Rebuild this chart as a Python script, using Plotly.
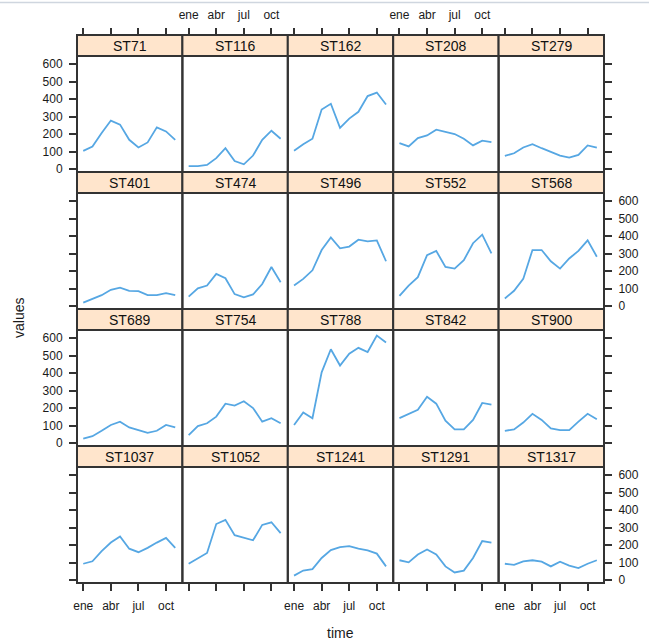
import plotly.graph_objects as go

# ---------------- data ----------------
months = list(range(1, 12))            # ene .. nov
month_ticks = [1, 4, 7, 10]
month_labels = ["ene", "abr", "jul", "oct"]
value_ticks = [0, 100, 200, 300, 400, 500, 600]

stations = ["ST71", "ST116", "ST162", "ST208", "ST279",
            "ST401", "ST474", "ST496", "ST552", "ST568",
            "ST689", "ST754", "ST788", "ST842", "ST900",
            "ST1037", "ST1052", "ST1241", "ST1291", "ST1317"]

ST71 = [104, 129, 206, 277, 254, 167, 123, 152, 238, 215, 167]
ST116 = [17, 17, 23, 62, 119, 46, 27, 77, 167, 219, 173]
ST162 = [104, 142, 173, 340, 373, 235, 288, 327, 417, 437, 369]
ST208 = [148, 129, 177, 192, 225, 212, 200, 173, 135, 162, 154]
ST279 = [75, 90, 123, 142, 119, 96, 77, 65, 81, 135, 123]
ST401 = [19, 39, 62, 93, 105, 87, 85, 62, 62, 74, 62]
ST474 = [54, 101, 117, 184, 159, 68, 50, 66, 126, 223, 136]
ST496 = [117, 155, 204, 320, 392, 330, 340, 379, 369, 375, 256]
ST552 = [58, 117, 165, 291, 315, 223, 214, 262, 359, 408, 301]
ST568 = [43, 87, 155, 320, 320, 256, 214, 272, 315, 375, 282]
ST689 = [25, 39, 70, 103, 122, 89, 74, 58, 70, 103, 89]
ST754 = [45, 97, 113, 151, 225, 214, 239, 200, 122, 142, 113]
ST788 = [103, 175, 142, 404, 536, 443, 511, 544, 520, 614, 575]
ST842 = [142, 167, 190, 264, 225, 128, 78, 78, 132, 229, 219]
ST900 = [70, 78, 117, 167, 132, 83, 74, 74, 122, 167, 136]
ST1037 = [93, 107, 165, 214, 249, 179, 159, 184, 214, 241, 184]
ST1052 = [93, 126, 155, 320, 344, 256, 243, 227, 315, 330, 268]
ST1241 = [25, 54, 62, 126, 171, 188, 194, 179, 169, 151, 78]
ST1291 = [113, 101, 146, 175, 146, 78, 43, 54, 126, 223, 214]
ST1317 = [93, 87, 107, 113, 105, 78, 105, 82, 68, 93, 113]

series = [ST71, ST116, ST162, ST208, ST279,
          ST401, ST474, ST496, ST552, ST568,
          ST689, ST754, ST788, ST842, ST900,
          ST1037, ST1052, ST1241, ST1291, ST1317]

# ---------------- layout geometry ----------------
W, H = 649, 643
col_edges = [77, 182.4, 287.8, 393.2, 498.6, 604]
top0 = 35
row_h = 137
strip_h = 21

FONT = "Liberation Sans, Arial, sans-serif"
DARK = "#333333"
TXT = "#1a1a1a"
LINE = "#56a7e3"
STRIP = "#ffe5cc"

def px_x(x):
    return x / W

def px_y(y):
    return 1 - y / H

fig = go.Figure()
shapes = []
annotations = []
layout = {}

for k, (name, vals) in enumerate(zip(stations, series)):
    r, c = divmod(k, 5)
    idx = "" if k == 0 else str(k + 1)
    x0, x1 = col_edges[c], col_edges[c + 1]
    s_top = top0 + r * row_h
    p_top = s_top + strip_h
    p_bot = s_top + row_h

    fig.add_trace(go.Scatter(
        x=months, y=vals, mode="lines",
        line=dict(color=LINE, width=1.8),
        xaxis="x" + idx, yaxis="y" + idx,
        showlegend=False, hoverinfo="x+y"))

    xa = dict(domain=[px_x(x0), px_x(x1)], range=[0.32, 11.78],
              anchor="y" + idx, tickvals=month_ticks, ticktext=month_labels,
              showgrid=False, zeroline=False, showline=False,
              tickfont=dict(family=FONT, size=12, color=TXT),
              fixedrange=True, automargin=False)
    if r == 0:
        xa.update(side="top", anchor="free", position=px_y(s_top),
                  ticks="outside", ticklen=7, tickwidth=1.5,
                  tickcolor=DARK, showticklabels=(c in (1, 3)), ticklabelstandoff=4)
    elif r == 3:
        xa.update(side="bottom", ticks="outside", ticklen=7, tickwidth=1.5,
                  tickcolor=DARK, showticklabels=(c in (0, 2, 4)), ticklabelstandoff=5)
    else:
        xa.update(ticks="", showticklabels=False)

    ya = dict(domain=[px_y(p_bot), px_y(p_top)], range=[-17, 646],
              anchor="x" + idx, tickvals=value_ticks,
              showgrid=False, zeroline=False, showline=False,
              tickfont=dict(family=FONT, size=12, color=TXT),
              fixedrange=True, automargin=False)
    if c == 0:
        ya.update(side="left", ticks="outside", ticklen=7, tickwidth=1.5,
                  tickcolor=DARK, showticklabels=(r in (0, 2)), ticklabelstandoff=4)
    elif c == 4:
        ya.update(side="right", ticks="outside", ticklen=7, tickwidth=1.5,
                  tickcolor=DARK, showticklabels=(r in (1, 3)), ticklabelstandoff=4)
    else:
        ya.update(ticks="", showticklabels=False)

    layout["xaxis" + idx] = xa
    layout["yaxis" + idx] = ya

    # strip
    shapes.append(dict(type="rect", xref="paper", yref="paper",
                       x0=px_x(x0), x1=px_x(x1), y0=px_y(p_top), y1=px_y(s_top),
                       fillcolor=STRIP, line=dict(color=DARK, width=2), layer="below"))
    # panel border
    shapes.append(dict(type="rect", xref="paper", yref="paper",
                       x0=px_x(x0), x1=px_x(x1), y0=px_y(p_bot), y1=px_y(p_top),
                       fillcolor="rgba(0,0,0,0)", line=dict(color=DARK, width=2), layer="above"))
    annotations.append(dict(text=name, xref="paper", yref="paper",
                            x=px_x((x0 + x1) / 2), y=px_y(s_top + strip_h / 2 + 0.5),
                            showarrow=False, xanchor="center", yanchor="middle",
                            font=dict(family=FONT, size=14, color="#111111")))

# faint top border of the original screenshot
shapes.append(dict(type="line", xref="paper", yref="paper",
                   x0=0, x1=1, y0=px_y(2.5), y1=px_y(2.5),
                   line=dict(color="#cfd6df", width=1.5)))

annotations.append(dict(text="values", xref="paper", yref="paper",
                        x=px_x(19), y=px_y(318), textangle=-90, showarrow=False,
                        xanchor="center", yanchor="middle",
                        font=dict(family=FONT, size=14, color=TXT)))
annotations.append(dict(text="time", xref="paper", yref="paper",
                        x=px_x(340), y=px_y(633), showarrow=False,
                        xanchor="center", yanchor="middle",
                        font=dict(family=FONT, size=14, color=TXT)))

fig.update_layout(**layout)
fig.update_layout(width=W, height=H, margin=dict(l=0, r=0, t=0, b=0),
                  autosize=False, template="none",
                  paper_bgcolor="white", plot_bgcolor="white",
                  shapes=shapes, annotations=annotations)

fig.write_html("out.html")
